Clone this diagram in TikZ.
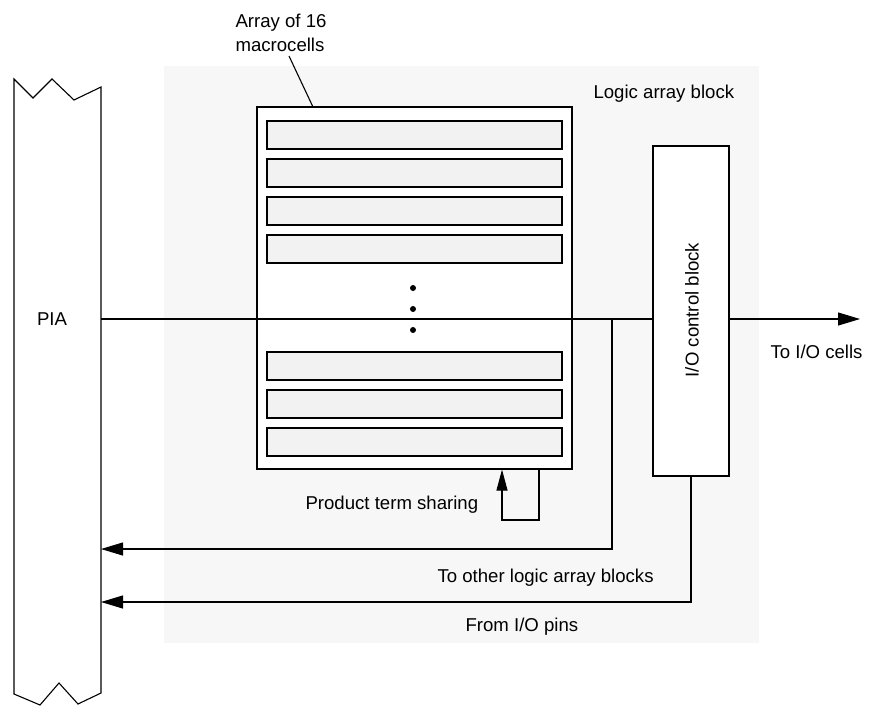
\documentclass[tikz,border=0pt]{standalone}
\usepackage{fontspec}
\setmainfont{Liberation Sans}
\usetikzlibrary{arrows.meta,positioning}

\begin{document}
\begin{tikzpicture}[
  x=1pt, y=-1pt,
  font=\fontsize{18.6}{22}\selectfont,
  line width=1.1pt,
  mcbar/.style={draw,line width=2.6pt,fill=black!5,minimum width=295pt,minimum height=28pt,inner sep=0},
  blockbox/.style={draw,fill=white,inner sep=0},
  lbl/.style={inner sep=0,anchor=base west},
  sig/.style={-{Triangle[length=22pt,width=13pt]}}
]
\useasboundingbox (0,0) rectangle (872,705);
\fill[black!3] (164,66) rectangle (759,643);
% PIA bus
\draw (14,79) -- (33,98) -- (52,79) -- (74,100) -- (101,87) -- (101,693)
  -- (78,704) -- (59,683) -- (40,705) -- (14,694) -- cycle;
\node (pialbl) at (52,319) {PIA};
\coordinate (pia) at (101,319);

\node[blockbox,minimum width=315pt,minimum height=362pt] (mcarray) at (414.5,288) {};
\foreach \i/\y in {1/135,2/173,3/211,4/249,5/366,6/404,7/442}
  \node[mcbar] (mc\i) at (414.5,\y) {};
\foreach \y in {288,309,330}
  \fill (413,\y) circle (3pt);
\node[blockbox,minimum width=76pt,minimum height=330pt] (ioctl) at (691,311) {};
\node[rotate=90] (iolbl) at (692,310) {I/O control block};

\node[lbl] (arrlbl) at (235,27) {Array of 16};
\node[lbl] (arrlbl2) at (235,51) {macrocells};
\node[lbl] (lablbl) at (593,98) {Logic array block};
\node[lbl] (iocellslbl) at (770,358) {To I/O cells};
\node[lbl] (ptslbl) at (305,509) {Product term sharing};
\node[lbl] (otherlbl) at (437,582) {To other logic array blocks};
\node[lbl] (pinslbl) at (465,631) {From I/O pins};

\coordinate (leadtop) at (289,56);
\coordinate (leadbot) at (313,107);
\coordinate (iocells) at (860,319);
\coordinate (tap) at (612,319);
\coordinate (fb) at (612,549);
\coordinate (pinc) at (691,602);
\coordinate (ptsR) at (539,520);
\coordinate (ptsL) at (502,520);

\draw (leadtop) -- (leadbot);
\draw (pia) -- (ioctl.west |- pia);
\draw[sig] (ioctl.east |- pia) -- (iocells);
\draw[sig] (tap) -- (fb) -- (fb -| pia);
\draw[sig] (ioctl.south) -- (pinc) -- (pinc -| pia);
\draw[-{Triangle[length=21pt,width=11pt]}] (mcarray.south -| ptsR) -- (ptsR) -- (ptsL) -- (mcarray.south -| ptsL);
\end{tikzpicture}
\end{document}
